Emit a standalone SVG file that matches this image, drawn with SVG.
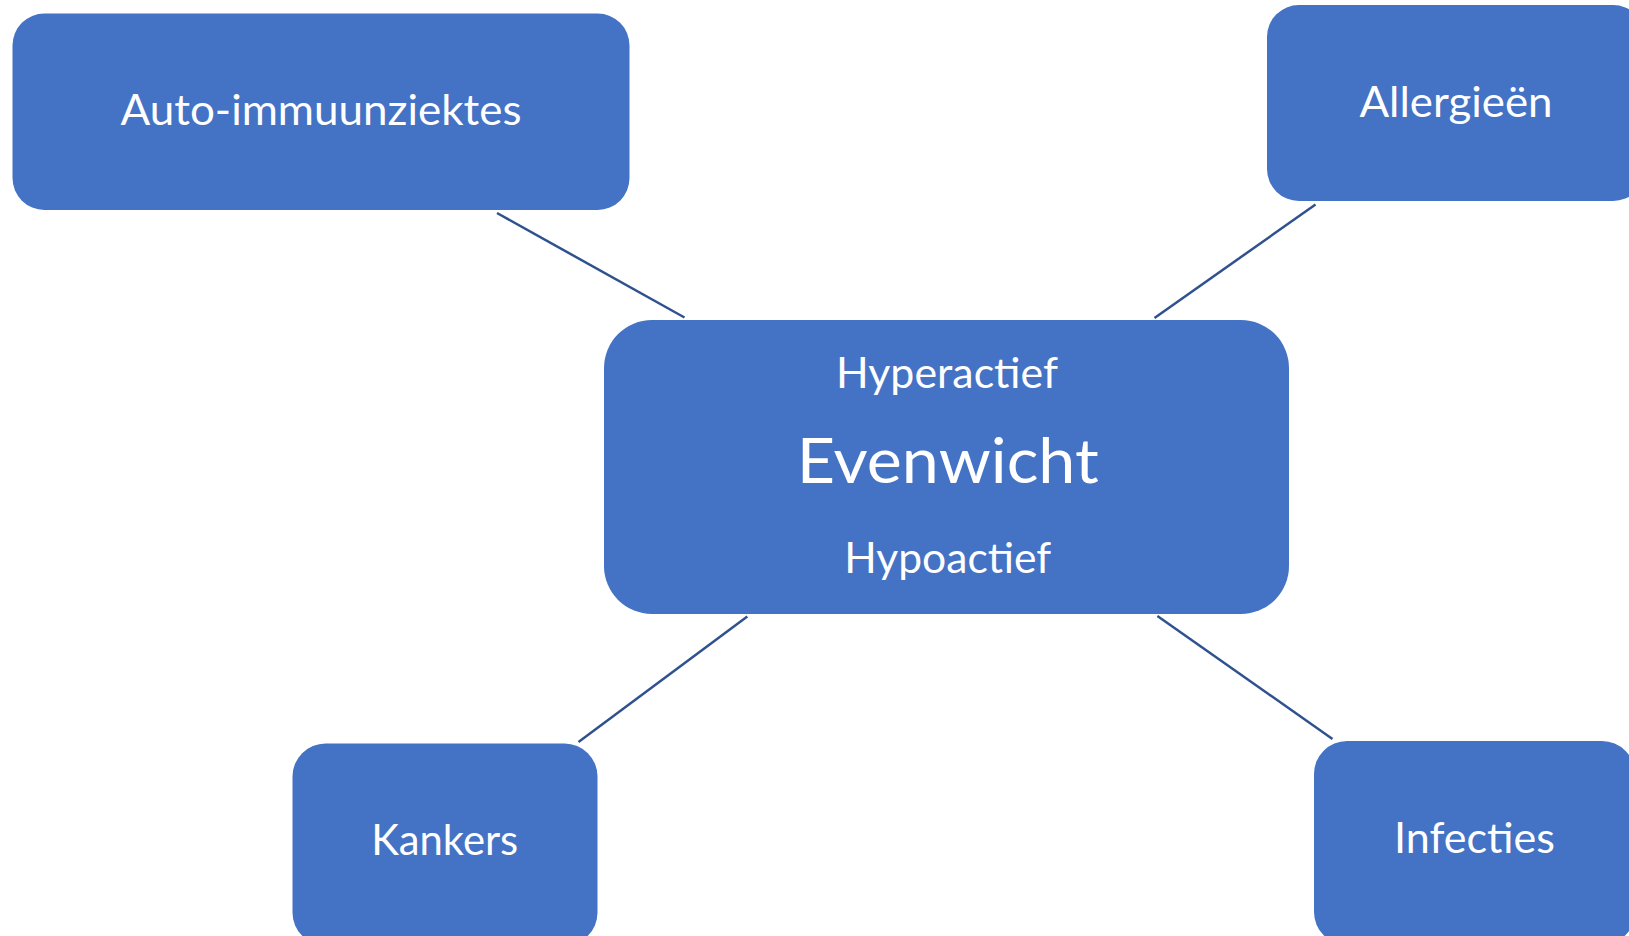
<svg xmlns="http://www.w3.org/2000/svg" width="1629" height="936" viewBox="0 0 1629 936">
<style>
.node{fill:#4472C4;}
.lbl{fill:#FFFFFF;font-family:Lato,"Open Sans","Liberation Sans",sans-serif;font-size:43px;text-anchor:middle;}
.big{font-size:62px;}
.conn{stroke:#2F528F;stroke-width:2.5;fill:none;}
</style>
<rect width="1629" height="936" fill="#FFFFFF"/>
<g id="connectors">
<line class="conn" x1="497" y1="213" x2="684.5" y2="317.5"/>
<line class="conn" x1="1315.5" y1="204.5" x2="1154.5" y2="318"/>
<line class="conn" x1="747.3" y1="616.5" x2="578.5" y2="742"/>
<line class="conn" x1="1157.4" y1="616" x2="1332.5" y2="739"/>
</g>
<g id="node-auto">
<rect class="node" x="12.5" y="13.5" width="617" height="196.5" rx="32" ry="32"/>
<text class="lbl" x="321" y="125.3" textLength="401" lengthAdjust="spacingAndGlyphs">Auto-immuunziektes</text>
</g>
<g id="node-allergieen">
<rect class="node" x="1267" y="5" width="378" height="196" rx="32" ry="32"/>
<text class="lbl" x="1456" y="117.3" textLength="193" lengthAdjust="spacingAndGlyphs">Allergieën</text>
</g>
<g id="node-evenwicht">
<rect class="node" x="604" y="320" width="685" height="294" rx="48" ry="48"/>
<text class="lbl" x="947" y="388.3" textLength="222" lengthAdjust="spacingAndGlyphs">Hyperactief</text>
<text class="lbl big" x="947.7" y="482.7" textLength="302" lengthAdjust="spacingAndGlyphs">Evenwicht</text>
<text class="lbl" x="947.7" y="573.3" textLength="207" lengthAdjust="spacingAndGlyphs">Hypoactief</text>
</g>
<g id="node-kankers">
<rect class="node" x="292.5" y="743.5" width="305" height="202" rx="33" ry="33"/>
<text class="lbl" x="444.7" y="855" textLength="147" lengthAdjust="spacingAndGlyphs">Kankers</text>
</g>
<g id="node-infecties">
<rect class="node" x="1314" y="741" width="321" height="204" rx="33" ry="33"/>
<text class="lbl" x="1474.5" y="853.3" textLength="161" lengthAdjust="spacingAndGlyphs">Infecties</text>
</g>
</svg>
